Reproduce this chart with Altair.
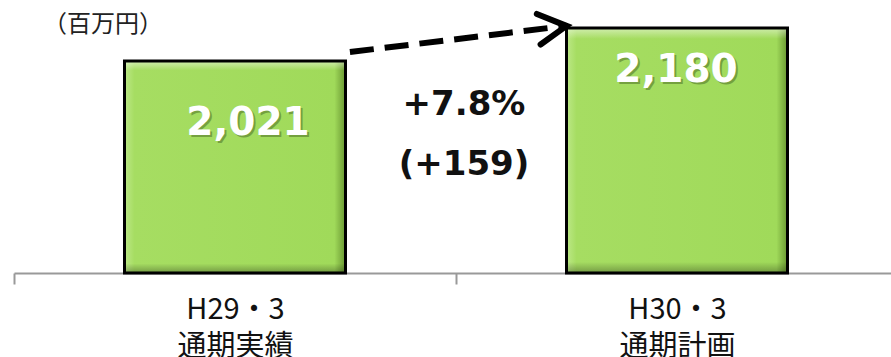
import altair as alt
import pandas as pd

# ---- data ----
categories = ["H29・3|通期実績", "H30・3|通期計画"]
values = [2021, 2180]
change_lines = ["+7.8%", "(+159)"]
unit_label = ["（百万円）"]

Y_BASE = 1000
Y_TOP = 2300

bars_df = pd.DataFrame({"cat": categories, "value": values})
arrow_df = pd.DataFrame({
    "x1": [categories[0]], "x2": [categories[1]],
    "y1": [values[0] + 43], "y2": [values[1] + 10],
})
ann_df = pd.DataFrame({"cat": [categories[1]]})
unit_df = pd.DataFrame({"t": unit_label})

yscale = alt.Scale(domain=[Y_BASE, Y_TOP], zero=False, nice=False)
xscale = alt.Scale(domain=categories, range=[0, 884], paddingInner=0, paddingOuter=0)

xaxis = alt.Axis(
    domainColor="#999999", domainWidth=2, tickColor="#999999", tickWidth=2,
    tickSize=11, tickBand="extent", labelAngle=0, labelFont="Noto Sans CJK JP",
    labelFontSize=29, labelColor="#111111", labelBaseline="alphabetic",
    labelPadding=34, labelLineHeight=37, labelExpr="split(datum.label, '|')",
    grid=False, title=None,
)

side = alt.LinearGradient(
    gradient="linear", x1=0, x2=1, y1=0, y2=0,
    stops=[
        alt.GradientStop(color="#bde888", offset=0),
        alt.GradientStop(color="#a6dd62", offset=0.045),
        alt.GradientStop(color="#a0da5a", offset=0.95),
        alt.GradientStop(color="#6a9832", offset=1),
    ],
)
vert = alt.LinearGradient(
    gradient="linear", x1=0, x2=0, y1=0, y2=1,
    stops=[
        alt.GradientStop(color="rgba(255,255,255,0.5)", offset=0),
        alt.GradientStop(color="rgba(255,255,255,0)", offset=0.045),
        alt.GradientStop(color="rgba(0,0,0,0)", offset=0.955),
        alt.GradientStop(color="rgba(0,0,0,0.3)", offset=1),
    ],
)

base = alt.Chart(bars_df)
xenc = alt.X("cat:N", scale=xscale, axis=xaxis)
yenc = alt.Y("value:Q", scale=yscale, axis=None)

bar_fill = base.mark_bar(size=221, fill=side).encode(x=xenc, y=yenc, y2=alt.datum(Y_BASE))
bar_bevel = base.mark_bar(size=221, fill=vert, stroke="#000000", strokeWidth=3).encode(
    x=xenc, y=yenc, y2=alt.datum(Y_BASE))

text_style = dict(font="DejaVu Sans", fontWeight="bold", fontSize=39,
                  align="center", baseline="alphabetic")
label_layers = []
for cat, dx, dy in [(categories[0], 13, 74), (categories[1], -1, 54)]:
    sub = base.transform_filter(alt.FieldEqualPredicate(field="cat", equal=cat))
    label_layers.append(sub.mark_text(color="#3d5a1a", opacity=0.45, dx=dx + 2, dy=dy + 2, **text_style)
                        .encode(x="cat:N", y="value:Q", text=alt.Text("value:Q", format=",")))
    label_layers.append(sub.mark_text(color="#ffffff", dx=dx, dy=dy, **text_style)
                        .encode(x="cat:N", y="value:Q", text=alt.Text("value:Q", format=",")))

arrow_line = alt.Chart(arrow_df).mark_rule(strokeDash=[24, 11], strokeWidth=6, color="#000000").encode(
    x=alt.X("x1:N", bandPosition=0.76), x2=alt.X2("x2", bandPosition=0.25),
    y=alt.Y("y1:Q"), y2=alt.Y2("y2"))
arrow_head = alt.Chart(arrow_df).mark_point(
    shape="M-1,-0.55L0,0L-1,0.55", size=3136, filled=False, strokeWidth=6,
    color="#000000", angle=353, opacity=1, strokeJoin="miter", strokeCap="round",
).encode(x=alt.X("x2:N", bandPosition=0.25), y=alt.Y("y2:Q"))

ann = alt.Chart(ann_df).mark_text(
    font="DejaVu Sans", fontWeight="bold", fontSize=34, color="#111111",
    align="center", baseline="alphabetic", lineHeight=60, dx=8,
).encode(x=alt.X("cat:N", bandPosition=0), y=alt.value(112), text=alt.value(change_lines))

unit = alt.Chart(unit_df).mark_text(
    font="Noto Sans CJK JP", fontSize=24, color="#222222", align="left", baseline="alphabetic",
).encode(x=alt.value(29), y=alt.value(29), text="t:N")

chart = alt.layer(bar_fill, bar_bevel, *label_layers, arrow_line, arrow_head, ann, unit).properties(
    width=877, height=270,
    autosize=alt.AutoSizeParams(type="none"),
    padding={"left": 14, "top": 3, "right": 0, "bottom": 84},
).configure_view(stroke=None).configure_axis(title=None)

chart.save("out.html", embed_options={"renderer": "svg", "actions": False})
